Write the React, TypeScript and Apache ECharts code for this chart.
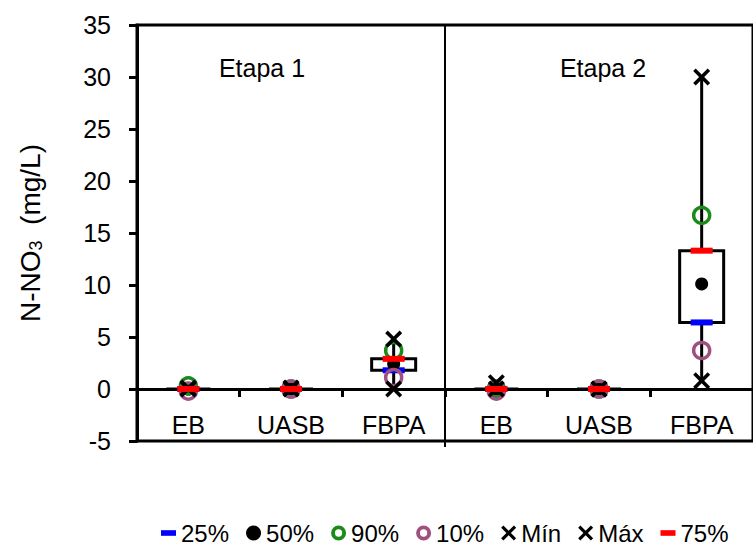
import React, { useEffect, useRef } from "react";
import * as echarts from "echarts";

const categories = ["EB", "UASB", "FBPA", "EB", "UASB", "FBPA"];
const stageLabels = ["Etapa 1", "Etapa 2"];
const minValues = [0, 0, 0, 0, 0, 0.8];
const p10Values = [-0.2, 0, 1.1, -0.2, 0, 3.7];
const q1Values = [0, 0, 1.8, 0, 0, 6.4];
const medianValues = [0, 0, 2.4, 0, 0, 10.1];
const q3Values = [0, 0, 2.9, 0, 0, 13.3];
const p90Values = [0.3, 0, 3.7, 0, 0, 16.7];
const maxValues = [0.1, 0.1, 4.8, 0.6, 0, 30];
const yMin = -5;
const yMax = 35;
const yInterval = 5;

const FONT = "Liberation Sans, Arial, sans-serif";
const X_PATH =
  "path://M3,0L10,7L17,0L20,3L13,10L20,17L17,20L10,13L3,20L0,17L7,10L0,3Z";
const DASH_PATH = "path://M0,0h16v6h-16z";
const RING_PATH =
  "path://M7,0A7,7 0 1,1 7,14A7,7 0 1,1 7,0ZM7,3.6A3.4,3.4 0 1,0 7,10.4A3.4,3.4 0 1,0 7,3.6Z";
const BLUE = "#0000ff";
const RED = "#ff0000";
const GREEN = "#1a8a1a";
const PURPLE = "#a0507e";

const pts = (vals: number[]) => vals.map((v, i) => [i, v]);

export default function App() {
  const ref = useRef<HTMLDivElement>(null);
  useEffect(() => {
    document.body.style.margin = "0";
    if (!ref.current) return;
    const chart = echarts.init(ref.current, undefined, { renderer: "svg" });
    const boxData = categories.map((_, i) => [
      i,
      minValues[i],
      q1Values[i],
      q3Values[i],
      maxValues[i],
    ]);
    const ringStyle = (c: string) => ({
      color: "rgba(0,0,0,0)",
      borderColor: c,
      borderWidth: 3.5,
      opacity: 1,
    });
    const solid = (c: string) => ({ color: c, opacity: 1, borderWidth: 0 });
    const option: any = {
      animation: false,
      backgroundColor: "#fff",
      grid: {
        left: 137,
        top: 25,
        width: 626,
        height: 416,
        show: true,
        borderColor: "#000",
        borderWidth: 3,
        backgroundColor: "transparent",
      },
      legend: {
        left: 156,
        top: 516,
        itemWidth: 15,
        itemHeight: 15,
        itemGap: 17,
        selectedMode: false,
        textStyle: { fontSize: 24, color: "#000", fontFamily: FONT },
        data: [
          { name: "25%", icon: DASH_PATH, itemStyle: solid(BLUE) },
          { name: "50%", icon: "circle", itemStyle: solid("#000") },
          { name: "90%", icon: RING_PATH, itemStyle: solid(GREEN) },
          { name: "10%", icon: RING_PATH, itemStyle: solid(PURPLE) },
          { name: "Mín", icon: X_PATH, itemStyle: solid("#000") },
          { name: "Máx", icon: X_PATH, itemStyle: solid("#000") },
          { name: "75%", icon: DASH_PATH, itemStyle: solid(RED) },
        ],
      },
      xAxis: {
        type: "category",
        data: categories,
        axisLine: { onZero: true, lineStyle: { color: "#000", width: 3 } },
        axisTick: { show: true, length: 8, lineStyle: { color: "#000", width: 3 } },
        axisLabel: { fontSize: 25, color: "#000", margin: -29, fontFamily: FONT },
        splitLine: { show: false },
      },
      yAxis: {
        type: "value",
        min: yMin,
        max: yMax,
        interval: yInterval,
        axisLine: { show: true, lineStyle: { color: "#000", width: 3 } },
        axisTick: { show: true, length: 8, lineStyle: { color: "#000", width: 3 } },
        axisLabel: { fontSize: 25, color: "#000", margin: 26, fontFamily: FONT },
        splitLine: { show: false },
        name: "N-NO{sub|3}  (mg/L)",
        nameLocation: "middle",
        nameGap: 92,
        nameTextStyle: {
          fontSize: 28,
          color: "#000",
          fontFamily: FONT,
          rich: {
            sub: { fontSize: 18, color: "#000", fontFamily: FONT, padding: [12, 0, 0, 0] },
          },
        },
      },
      graphic: [
        {
          type: "text",
          x: 262,
          y: 68,
          style: {
            text: stageLabels[0],
            fontSize: 25,
            fontFamily: FONT,
            fill: "#000",
            align: "center",
            verticalAlign: "middle",
          },
        },
        {
          type: "text",
          x: 603,
          y: 68,
          style: {
            text: stageLabels[1],
            fontSize: 25,
            fontFamily: FONT,
            fill: "#000",
            align: "center",
            verticalAlign: "middle",
          },
        },
      ],
      series: [
        {
          type: "custom",
          name: "divider",
          data: [[2]],
          z: 1,
          renderItem: (params: any, api: any) => {
            const a = api.coord([2, yMax]);
            const b = api.coord([3, yMin]);
            const x = (a[0] + b[0]) / 2;
            return {
              type: "line",
              shape: { x1: x, y1: a[1], x2: x, y2: b[1] + 6 },
              style: { stroke: "#000", lineWidth: 2 },
            };
          },
        },
        {
          type: "custom",
          name: "box",
          data: boxData,
          dimensions: ["x", "min", "q1", "q3", "max"],
          encode: { x: 0, y: [1, 2, 3, 4] },
          z: 2,
          renderItem: (params: any, api: any) => {
            const i = api.value(0);
            const pMin = api.coord([i, api.value(1)]);
            const pQ1 = api.coord([i, api.value(2)]);
            const pQ3 = api.coord([i, api.value(3)]);
            const pMax = api.coord([i, api.value(4)]);
            const w = 44;
            return {
              type: "group",
              children: [
                {
                  type: "line",
                  shape: { x1: pMin[0], y1: pMin[1], x2: pMax[0], y2: pMax[1] },
                  style: { stroke: "#000", lineWidth: 3 },
                },
                {
                  type: "rect",
                  shape: {
                    x: pQ3[0] - w / 2,
                    y: pQ3[1],
                    width: w,
                    height: pQ1[1] - pQ3[1],
                  },
                  style: { fill: "#fff", stroke: "#000", lineWidth: 3 },
                },
              ],
            };
          },
        },
        {
          type: "scatter",
          name: "25%",
          data: pts(q1Values),
          symbol: "rect",
          symbolSize: [22, 6],
          itemStyle: solid(BLUE),
          z: 3,
        },
        {
          type: "scatter",
          name: "50%",
          data: pts(medianValues),
          symbol: "circle",
          symbolSize: 13,
          itemStyle: solid("#000"),
          z: 3,
        },
        {
          type: "scatter",
          name: "90%",
          data: pts(p90Values),
          symbol: "circle",
          symbolSize: 16,
          itemStyle: ringStyle(GREEN),
          z: 3,
        },
        {
          type: "scatter",
          name: "10%",
          data: pts(p10Values),
          symbol: "circle",
          symbolSize: 16,
          itemStyle: ringStyle(PURPLE),
          z: 3,
        },
        {
          type: "scatter",
          name: "Mín",
          data: pts(minValues),
          symbol: X_PATH,
          symbolSize: 17,
          itemStyle: solid("#000"),
          z: 3,
        },
        {
          type: "scatter",
          name: "Máx",
          data: pts(maxValues),
          symbol: X_PATH,
          symbolSize: 17,
          itemStyle: solid("#000"),
          z: 3,
        },
        {
          type: "scatter",
          name: "75%",
          data: pts(q3Values),
          symbol: "rect",
          symbolSize: [22, 6],
          itemStyle: solid(RED),
          z: 3,
        },
      ],
    };
    chart.setOption(option);
    return () => chart.dispose();
  }, []);
  return <div ref={ref} style={{ width: 753, height: 551 }} />;
}
